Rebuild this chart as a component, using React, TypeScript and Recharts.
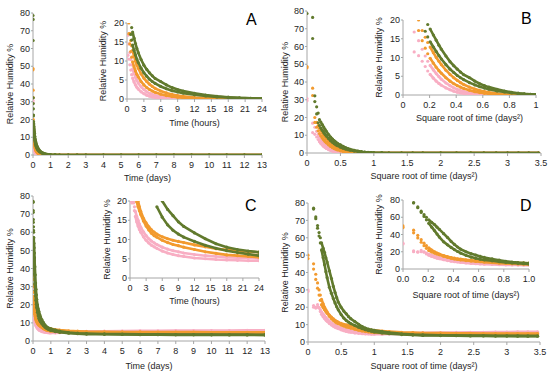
import React from "react";
import { ScatterChart, Scatter, XAxis, YAxis } from "recharts";

// sampling times in hours, shared by every series
const hours = [0, 0.17, 0.33, 0.5, 0.67, 0.83, 1, 1.25, 1.5, 1.75, 2, 2.5, 3, 3.5, 4, 4.5, 5, 6, 7, 8, 9, 10, 12, 14, 16, 18, 20, 22, 24, 30, 36, 48, 60, 72, 96, 120, 144, 168, 192, 216, 240, 264, 288, 312];

// panels A / B
const aGreen1 = [80.5, 76.4, 32.2, 26, 22.5, 18.8, 17.6, 16, 14.6, 13.3, 12.2, 10.4, 8.9, 7.8, 6.9, 6.1, 5.4, 4.6, 3.7, 3.0, 2.5, 2.1, 1.5, 1.05, 0.72, 0.48, 0.3, 0.2, 0.12, 0.05, 0, 0, 0, 0, 0, 0, 0, 0, 0, 0, 0, 0, 0, 0];
const aGreen2 = [78.6, 64.5, 29, 22, 17, 15.5, 14.2, 12.8, 11.6, 10.5, 9.6, 8.1, 6.9, 6.0, 5.2, 4.6, 4.1, 3.3, 2.7, 2.2, 1.85, 1.55, 1.1, 0.8, 0.55, 0.38, 0.25, 0.17, 0.1, 0.04, 0, 0, 0, 0, 0, 0, 0, 0, 0, 0, 0, 0, 0, 0];
const aOrange1 = [48.7, 36.5, 20, 17.2, 15.4, 14, 12.8, 11.3, 10, 9, 8.1, 6.6, 5.5, 4.6, 3.9, 3.3, 2.8, 2.1, 1.6, 1.2, 0.9, 0.7, 0.4, 0.22, 0.12, 0.06, 0.03, 0, 0, 0, 0, 0, 0, 0, 0, 0, 0, 0, 0, 0, 0, 0, 0, 0];
const aOrange2 = [48, 32.4, 17.2, 14.5, 12.5, 11, 9.8, 8.5, 7.4, 6.5, 5.8, 4.6, 3.7, 3, 2.5, 2.1, 1.75, 1.25, 0.9, 0.65, 0.45, 0.32, 0.15, 0.07, 0.03, 0, 0, 0, 0, 0, 0, 0, 0, 0, 0, 0, 0, 0, 0, 0, 0, 0, 0, 0];
const aPink1 = [30.7, 16.8, 14.5, 12.2, 10.4, 9, 7.9, 6.7, 5.7, 4.9, 4.2, 3.2, 2.5, 1.9, 1.5, 1.2, 0.95, 0.6, 0.38, 0.24, 0.15, 0.1, 0.04, 0, 0, 0, 0, 0, 0, 0, 0, 0, 0, 0, 0, 0, 0, 0, 0, 0, 0, 0, 0, 0];
const aPink2 = [29.5, 11.5, 10.5, 9, 7.6, 6.4, 5.5, 4.5, 3.7, 3.1, 2.6, 1.9, 1.4, 1, 0.75, 0.55, 0.4, 0.22, 0.12, 0.06, 0.03, 0, 0, 0, 0, 0, 0, 0, 0, 0, 0, 0, 0, 0, 0, 0, 0, 0, 0, 0, 0, 0, 0, 0];

// panels C / D
const cGreen1 = [null, 77, 72, 67, 63, 60, 57, 54, 51.5, 48.5, 46, 41, 36.5, 32, 28.5, 25.5, 23, 20, 17.8, 16.2, 14.6, 13.4, 11.7, 10.2, 8.9, 8, 7.4, 7, 6.7, 6, 5.4, 4.7, 4.3, 4.1, 3.9, 3.8, 3.7, 3.7, 3.6, 3.6, 3.5, 3.5, 3.5, 3.4];
const cGreen2 = [null, 76.5, 71, 65.5, 61, 57, 53, 48.5, 44.5, 40.5, 37, 31.5, 28, 25, 22.5, 20.3, 18.5, 15.8, 13.8, 12.4, 11.4, 10.6, 9.5, 8.5, 7.7, 7.1, 6.6, 6.2, 5.8, 5.2, 4.8, 4.3, 4, 3.8, 3.7, 3.6, 3.5, 3.5, 3.4, 3.4, 3.4, 3.3, 3.3, 3.3];
const cOrange1 = [50, 45, 39, 34, 30, 27, 24.5, 22, 20, 18.5, 17.3, 15.5, 14.3, 13.3, 12.5, 11.9, 11.4, 10.7, 10.2, 9.8, 9.5, 9.2, 8.6, 8.1, 7.6, 7.3, 7, 6.8, 6.7, 6.3, 6, 5.6, 5.4, 5.2, 5.1, 5, 5, 4.9, 4.9, 4.9, 4.8, 4.8, 4.8, 4.8];
const cOrange2 = [48, 42, 36, 31, 27, 24, 21.5, 19.8, 18.5, 17.5, 16.5, 14.8, 13.5, 12.5, 11.6, 11, 10.6, 9.8, 9.2, 8.7, 8.4, 8, 7.4, 6.8, 6.4, 6, 5.8, 5.6, 5.4, 5.2, 5, 4.8, 4.7, 4.6, 4.6, 4.6, 4.6, 4.6, 4.6, 4.6, 4.6, 4.6, 4.6, 4.6];
const cPink1 = [30, 21, 20, 21.5, 20, 18.5, 17.3, 16, 15, 14, 13.2, 12, 11, 10.2, 9.6, 9.1, 8.7, 8, 7.5, 7.1, 6.8, 6.5, 6.1, 5.8, 5.6, 5.4, 5.3, 5.2, 5.1, 5, 5, 5.1, 5.2, 5.3, 5.4, 5.5, 5.6, 5.6, 5.7, 5.7, 5.8, 5.8, 5.9, 5.9];
const cPink2 = [29, 20, 19.5, 20, 19.5, 17.5, 16, 14.6, 13.5, 12.6, 11.9, 10.7, 9.8, 9.1, 8.5, 8.1, 7.7, 7, 6.5, 6.1, 5.8, 5.6, 5.2, 5, 4.8, 4.7, 4.6, 4.5, 4.5, 4.5, 4.6, 4.7, 4.8, 4.9, 5, 5.1, 5.2, 5.2, 5.3, 5.3, 5.4, 5.4, 5.5, 5.5];

// ticks
const dayTicks = [0, 1, 2, 3, 4, 5, 6, 7, 8, 9, 10, 11, 12, 13];
const hourTicks = [0, 3, 6, 9, 12, 15, 18, 21, 24];
const sqrtTicks = [0, 0.5, 1, 1.5, 2, 2.5, 3, 3.5];
const sqrtInsetTicks = [0, 0.2, 0.4, 0.6, 0.8, 1];
const rhTicks = [0, 10, 20, 30, 40, 50, 60, 70, 80];
const rhInsetTicks = [0, 5, 10, 15, 20];
const rhInsetTicksD = [0, 20, 40, 60, 80];

const GREEN = "#617a2d";
const ORANGE = "#f29a2e";
const PINK = "#f8aec3";
const AXIS = "#a6a6a6";
const TEXT = "#262626";
const FONT = "'Liberation Sans', Arial, sans-serif";

const setAB = [
  { vals: aPink1, color: PINK },
  { vals: aPink2, color: PINK },
  { vals: aOrange1, color: ORANGE },
  { vals: aOrange2, color: ORANGE },
  { vals: aGreen1, color: GREEN },
  { vals: aGreen2, color: GREEN },
];
const setCD = [
  { vals: cPink1, color: PINK },
  { vals: cPink2, color: PINK },
  { vals: cOrange1, color: ORANGE },
  { vals: cOrange2, color: ORANGE },
  { vals: cGreen1, color: GREEN },
  { vals: cGreen2, color: GREEN },
];

type Mode = "days" | "hours" | "sqrt";
const toX = (t: number, mode: Mode) =>
  mode === "days" ? t / 24 : mode === "hours" ? t : Math.sqrt(t / 24);

function points(vals: (number | null)[], mode: Mode, xMax: number, yMax: number, minT = 0) {
  const out: { x: number; y: number }[] = [];
  hours.forEach((t, i) => {
    const y = vals[i];
    if (y == null || t < minT) return;
    const x = toX(t, mode);
    if (x > xMax + 1e-9 || y > yMax) return;
    out.push({ x, y });
  });
  return out;
}

type Box = { x1: number; y1: number; x2: number; y2: number; labX: number; titY: number };

function Plot({ box, mode, xDom, xTicks, xFmt, yDom, yTicks, xTitle, series }: any) {
  const b: Box = box;
  const left = b.labX - 8;
  const top = b.y1 - 8;
  const w = b.x2 + 8 - left;
  const h = b.titY + 6 - top;
  const yW = b.x1 - left;
  const xH = b.titY + 3.5 - b.y2;
  const txt = { fontSize: 9, fill: TEXT, fontFamily: FONT };
  return (
    <div style={{ position: "absolute", left, top, width: w, height: h }}>
      <ScatterChart width={w} height={h} margin={{ top: 8, right: 8, left: 0, bottom: 2.5 }}>
        <XAxis
          type="number"
          dataKey="x"
          domain={xDom}
          ticks={xTicks}
          interval={0}
          allowDataOverflow
          tickFormatter={xFmt}
          height={xH}
          stroke={AXIS}
          tickSize={3}
          tickMargin={3.5}
          tick={txt}
          label={{ value: xTitle, position: "insideBottom", offset: 0, style: txt }}
        />
        <YAxis
          type="number"
          dataKey="y"
          domain={yDom}
          ticks={yTicks}
          interval={0}
          allowDataOverflow
          width={yW}
          stroke={AXIS}
          tickSize={2}
          tickMargin={1}
          tick={txt}
          label={{
            value: "Relative Humidity %",
            angle: -90,
            position: "insideLeft",
            offset: 8,
            style: { ...txt, textAnchor: "middle" },
          }}
        />
        {series.flatMap((s: any, i: number) => [
          <Scatter
            key={"l" + i}
            data={points(s.vals, mode, xDom[1], yDom[1], 1)}
            fill={s.color}
            line={{ stroke: s.color, strokeWidth: 2.6 }}
            shape={() => <g />}
            isAnimationActive={false}
          />,
          <Scatter
            key={"d" + i}
            data={points(s.vals, mode, xDom[1], yDom[1])}
            fill={s.color}
            shape={(p: any) => <circle cx={p.cx} cy={p.cy} r={1.6} fill={s.color} />}
            isAnimationActive={false}
          />,
        ])}
      </ScatterChart>
    </div>
  );
}

const sqrtTitle = "Square root of time (days\u00B2)";

export default function App() {
  return (
    <div style={{ position: "absolute", left: 0, top: 0, width: 550, height: 374, background: "#fff", fontFamily: FONT }}>
      {/* A */}
      <Plot box={{ x1: 33, y1: 13, x2: 262, y2: 155, labX: 10, titY: 177 }} mode="days" xDom={[0, 13]} xTicks={dayTicks}
        yDom={[0, 80]} yTicks={rhTicks} xTitle="Time (days)" series={setAB} />
      <Plot box={{ x1: 127, y1: 23, x2: 262, y2: 99, labX: 103, titY: 122 }} mode="hours" xDom={[0, 24]} xTicks={hourTicks}
        yDom={[0, 20]} yTicks={rhInsetTicks} xTitle="Time (hours)" series={setAB} />
      {/* B */}
      <Plot box={{ x1: 307, y1: 11, x2: 541, y2: 153, labX: 285, titY: 175 }} mode="sqrt" xDom={[0, 3.5]} xTicks={sqrtTicks}
        yDom={[0, 80]} yTicks={rhTicks} xTitle={sqrtTitle} series={setAB} />
      <Plot box={{ x1: 403, y1: 20, x2: 536, y2: 95, labX: 379, titY: 117 }} mode="sqrt" xDom={[0, 1]} xTicks={sqrtInsetTicks}
        yDom={[0, 20]} yTicks={rhInsetTicks} xTitle={sqrtTitle} series={setAB} />
      {/* C */}
      <Plot box={{ x1: 33, y1: 196, x2: 265, y2: 341, labX: 10, titY: 365 }} mode="days" xDom={[0, 13]} xTicks={dayTicks}
        yDom={[0, 80]} yTicks={rhTicks} xTitle="Time (days)" series={setCD} />
      <Plot box={{ x1: 130, y1: 201, x2: 259, y2: 278, labX: 107, titY: 300 }} mode="hours" xDom={[0, 24]} xTicks={hourTicks}
        yDom={[0, 20]} yTicks={rhInsetTicks} xTitle="Time (hours)" series={setCD} />
      {/* D */}
      <Plot box={{ x1: 308, y1: 203, x2: 540, y2: 342, labX: 285, titY: 365 }} mode="sqrt" xDom={[0, 3.5]} xTicks={sqrtTicks}
        yDom={[0, 80]} yTicks={rhTicks} xTitle={sqrtTitle} series={setCD} />
      <Plot box={{ x1: 403, y1: 200, x2: 529, y2: 269, labX: 379, titY: 294 }} mode="sqrt" xDom={[0, 1]} xTicks={sqrtInsetTicks}
        xFmt={(v: number) => v.toFixed(1)} yDom={[0, 80]} yTicks={rhInsetTicksD} xTitle={sqrtTitle} series={setCD} />
      <svg width={550} height={374} style={{ position: "absolute", left: 0, top: 0, pointerEvents: "none" }}>
        <g fontFamily={FONT} fontSize={16} fill="#000">
          <text x={246} y={25}>A</text>
          <text x={521} y={24}>B</text>
          <text x={245} y={211}>C</text>
          <text x={520} y={211}>D</text>
        </g>
      </svg>
    </div>
  );
}
